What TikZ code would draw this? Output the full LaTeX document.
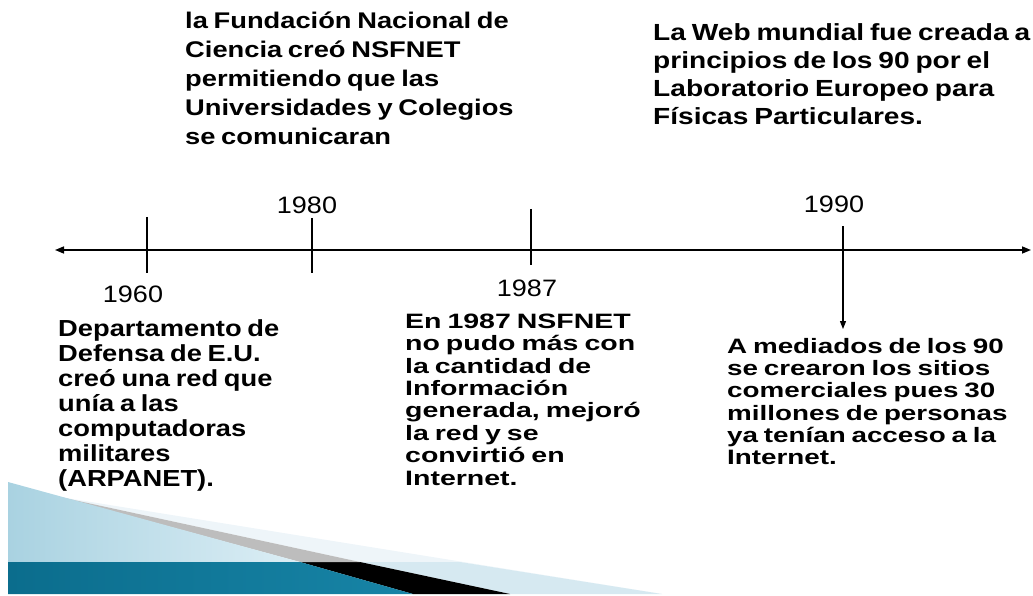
\documentclass[tikz,border=0pt]{standalone}
\usepackage{fontspec}
\usepackage{graphicx}
\setmainfont{Liberation Sans}[WordSpace=0.75]
\usetikzlibrary{arrows.meta}
% yscale, size, baselineskip, text
\newcommand\txtblk[4]{\scalebox{1}[#1]{\parbox[t]{420pt}{\raggedright\fontsize{#2}{#3}\selectfont\bfseries #4}}}
\newcommand\yr[1]{\scalebox{1}[0.88]{\fontsize{27}{30}\selectfont #1}}
\definecolor{pale}{HTML}{EEF5F9}
\definecolor{lbright}{HTML}{D6E9F1}
\definecolor{lbleft}{HTML}{A9D2E1}
\definecolor{lbleft2}{HTML}{DCEEF5}
\definecolor{grayband}{HTML}{BDBDBD}
\definecolor{dk1}{HTML}{0B6D8D}
\definecolor{dk2}{HTML}{58B8D8}
\definecolor{dk3}{HTML}{1784A6}
\begin{document}
\begin{tikzpicture}[x=1pt,y=-1pt,
  tl/.style={line width=1.5pt,{Triangle[length=9pt,width=7pt]}-{Triangle[length=9pt,width=7pt]}},
  tick/.style={line width=1.2pt},
  down/.style={line width=1.2pt,-{Triangle[length=8pt,width=6pt]}},
  blk/.style={anchor=base west,inner sep=0pt},
  yearlbl/.style={anchor=base,inner sep=0pt}]
\useasboundingbox (0,0) rectangle (1033,596);
% decoration
\fill[pale] (60,497) -- (662,594) -- (460,562) -- (360,562) -- cycle;
\fill[lbright] (360,562) -- (460,562) -- (662,594) -- (510,594) -- cycle;
\fill[black] (300,562) -- (360,562) -- (510,594) -- (413,594) -- cycle;
\fill[grayband] (60,497) -- (360,562) -- (300,562) -- cycle;
\shade[left color=lbleft, right color=lbleft2] (8,482) -- (300,562) -- (8,562) -- cycle;
\shade[left color=dk1, middle color=dk2, right color=dk3] (8,562) -- (300,562) -- (413,594) -- (8,594) -- cycle;
% timeline
\coordinate (L) at (55,250);
\coordinate (R) at (1031,250);
\draw[tl] (L) -- (R);
\coordinate (t1a) at (147,217); \coordinate (t1b) at (147,273);
\coordinate (t2a) at (312,218); \coordinate (t2b) at (312,273);
\coordinate (t3a) at (531,209); \coordinate (t3b) at (531,265);
\coordinate (t4a) at (843,226); \coordinate (t4b) at (843,329);
\draw[tick] (t1a) -- (t1b);
\draw[tick] (t2a) -- (t2b);
\draw[tick] (t3a) -- (t3b);
\draw[down] (t4a) -- (t4b);
% years
\node[yearlbl] (y1960) at (133,302) {\yr{1960}};
\node[yearlbl] (y1980) at (307,214) {\yr{1980}};
\node[yearlbl] (y1987) at (527,296) {\yr{1987}};
\node[yearlbl] (y1990) at (834,213) {\yr{1990}};
% text blocks
\node[blk] (tm) at (185,28.5) {\txtblk{0.83}{27.3}{35}{la Fundación Nacional de\\Ciencia creó NSFNET\\permitiendo que las\\Universidades y Colegios\\se comunicaran}};
\node[blk] (tr) at (653,41) {\txtblk{0.83}{28.1}{33.5}{La Web mundial fue creada a\\principios de los 90 por el\\Laboratorio Europeo para\\Físicas Particulares.}};
\node[blk] (bl) at (58,336) {\txtblk{0.85}{27.3}{29.6}{Departamento de\\Defensa de E.U.\\creó una red que\\unía a las\\computadoras\\militares\\(ARPANET).}};
\node[blk] (bm) at (405,328.3) {\txtblk{0.73}{28.5}{30.7}{En 1987 NSFNET\\no pudo más con\\la cantidad de\\Información\\generada, mejoró\\la red y se\\convirtió en\\Internet.}};
\node[blk] (br) at (727,353.3) {\txtblk{0.75}{27.8}{29.7}{A mediados de los 90\\se crearon los sitios\\comerciales pues 30\\millones de personas\\ya tenían acceso a la\\Internet.}};
\end{tikzpicture}
\end{document}
